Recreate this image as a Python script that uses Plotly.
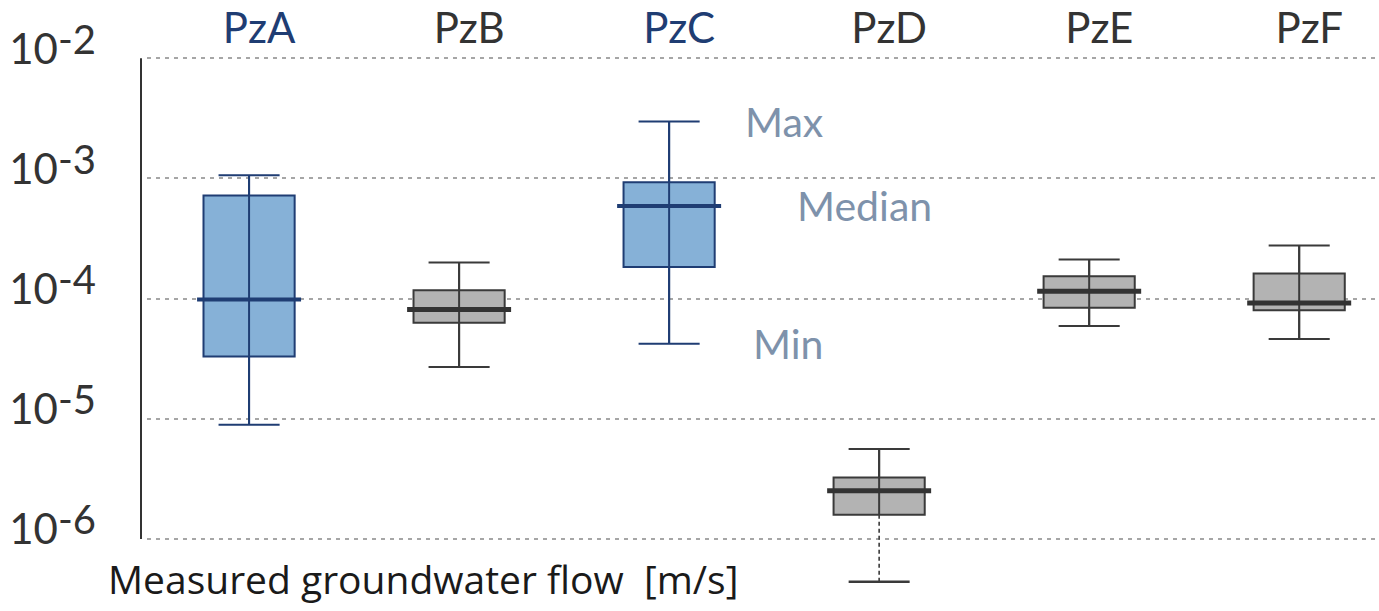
import math
import plotly.graph_objects as go

# ---- data ----
categories = ["PzA", "PzB", "PzC", "PzD", "PzE", "PzF"]
q_min = [8.9e-6, 2.7e-5, 4.2e-5, 4.4e-7, 5.9e-5, 4.6e-5]
q1 = [3.3e-5, 6.3e-5, 1.83e-4, 1.59e-6, 8.4e-5, 8.0e-5]
median = [9.8e-5, 8.1e-5, 5.9e-4, 2.52e-6, 1.15e-4, 9.2e-5]
q3 = [7.2e-4, 1.17e-4, 9.3e-4, 3.25e-6, 1.53e-4, 1.62e-4]
q_max = [1.06e-3, 2.0e-4, 2.97e-3, 5.6e-6, 2.11e-4, 2.77e-4]
groups = ["blue", "grey", "blue", "grey", "grey", "grey"]
dashed_lower = [False, False, False, True, False, False]
y_tick_vals = [1e-6, 1e-5, 1e-4, 1e-3, 1e-2]
y_tick_exps = ["-6", "-5", "-4", "-3", "-2"]
legend_labels = ["Max", "Median", "Min"]

# ---- styles ----
FONT = "Lato"
STY = {
    "blue": dict(fill="#86b1d7", edge="#1f3d73", med="#1f3d73", label="#1f3d73", medw=4),
    "grey": dict(fill="#b3b3b3", edge="#3a3a3a", med="#333333", label="#333333", medw=5),
}
W, H = 1379, 611
L = 147
Y_RANGE = [-6.45, -1.99]
PX_PER_DEC = 120.25
T = 58.3 - (Y_RANGE[1] + 2) * PX_PER_DEC
plot_h = (Y_RANGE[1] - Y_RANGE[0]) * PX_PER_DEC
B = H - T - plot_h
X_RANGE = [-0.486, 5.38]
BOX_W = 0.434
WHISK_W = 0.67
MED_PX = 104
CAP_PX = 61

fig = go.Figure()

for i, cat in enumerate(categories):
    s = STY[groups[i]]
    low = q1[i] if dashed_lower[i] else q_min[i]
    fig.add_trace(go.Box(
        x=[cat], q1=[q1[i]], median=[median[i]], q3=[q3[i]],
        lowerfence=[low], upperfence=[q_max[i]],
        width=BOX_W, whiskerwidth=WHISK_W,
        fillcolor=s["fill"], line=dict(color=s["edge"], width=2),
        marker=dict(opacity=0), showlegend=False, hoverinfo="skip",
    ))
    # whisker line continuing through the box
    fig.add_trace(go.Scatter(
        x=[cat, cat], y=[low, q_max[i]], mode="lines",
        line=dict(color=s["edge"], width=2),
        showlegend=False, hoverinfo="skip",
    ))
    if dashed_lower[i]:
        fig.add_trace(go.Scatter(
            x=[cat, cat], y=[q1[i], q_min[i]], mode="lines",
            line=dict(color=s["edge"], width=1.6, dash="4px,3px"),
            showlegend=False, hoverinfo="skip",
        ))
        fig.add_trace(go.Scatter(
            x=[cat], y=[q_min[i]], mode="markers",
            marker=dict(symbol="line-ew", size=CAP_PX / 1.4,
                        line=dict(color=s["edge"], width=2.5)),
            showlegend=False, hoverinfo="skip",
        ))
    # extended thick median line
    fig.add_trace(go.Scatter(
        x=[cat], y=[median[i]], mode="markers",
        marker=dict(symbol="line-ew", size=MED_PX / 1.4,
                    line=dict(color=s["med"], width=s["medw"])),
        showlegend=False, hoverinfo="skip",
    ))

tick_text_x = [
    f'<span style="color:{STY[g]["label"]}">{c}</span>' for c, g in zip(categories, groups)
]
tick_text_y = [
    f'<span style="font-size:42px">10</span><sup><span style="font-size:40px">{e}</span></sup>'
    for e in y_tick_exps
]


def ypaper(v):
    return (math.log10(v) - Y_RANGE[0]) / (Y_RANGE[1] - Y_RANGE[0])


# y axis line from 1e-6 to 1e-2
fig.add_shape(type="line", xref="paper", yref="paper",
              x0=-6 / (W - L), x1=-6 / (W - L),
              y0=ypaper(y_tick_vals[0]), y1=ypaper(y_tick_vals[-1]),
              line=dict(color="#333333", width=2))

# Max / Median / Min labels next to PzC
ci = categories.index("PzC")
for lab, val, dx in zip(legend_labels, [q_max[ci], median[ci], q_min[ci]], [0.352, 0.600, 0.388]):
    fig.add_annotation(x=ci + dx, y=math.log10(val), xref="x", yref="y",
                       text=lab, showarrow=False, xanchor="left", yanchor="middle",
                       font=dict(family=FONT, size=41, color="#7e92ab"))

fig.add_annotation(x=(106 - L) / (W - L), y=(H - 579 - B) / plot_h, xref="paper", yref="paper",
                   text="Measured groundwater flow &nbsp;[m/s]", showarrow=False,
                   xanchor="left", yanchor="middle",
                   font=dict(family="Open Sans", size=39, color="#1a1a1a"))

fig.update_layout(
    width=W, height=H, autosize=False,
    margin=dict(l=L, r=0, t=T, b=B, pad=0),
    paper_bgcolor="white", plot_bgcolor="white",
    font=dict(family=FONT, color="#333333"),
    boxmode="overlay",
    xaxis=dict(type="category", categoryorder="array", categoryarray=categories,
               range=X_RANGE, side="top", tickmode="array", tickvals=categories,
               ticktext=tick_text_x, tickfont=dict(size=42, family=FONT, color="#333333"),
               ticks="", showline=False, showgrid=False, zeroline=False,
               ticklabelstandoff=5, ticklabelshift=10),
    yaxis=dict(type="log", range=Y_RANGE, tickmode="array", tickvals=y_tick_vals,
               ticktext=tick_text_y, tickfont=dict(size=24, family=FONT, color="#333333"),
               ticks="", showline=False, zeroline=False,
               showgrid=True, gridcolor="#a6a6a6", gridwidth=2, griddash="4px,5px",
               ticklabelstandoff=50, ticklabelshift=-3),
)

fig.write_html("out.html")
